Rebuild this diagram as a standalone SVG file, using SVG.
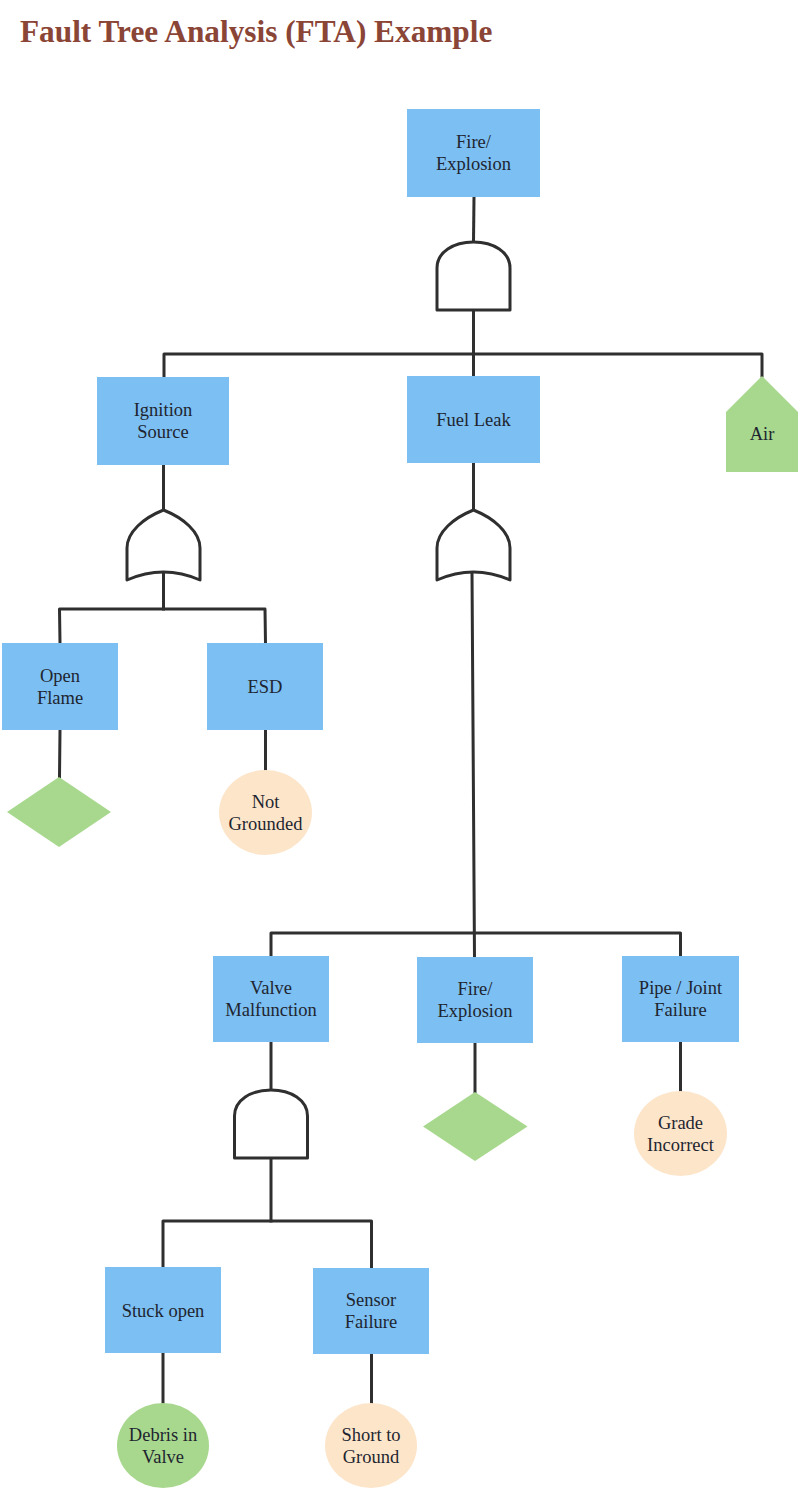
<svg xmlns="http://www.w3.org/2000/svg" xmlns:xlink="http://www.w3.org/1999/xlink" width="800" height="1491" viewBox="0 0 800 1491">
<style>
.box{fill:#7CBFF2;}
.green{fill:#A8D88E;}
.peach{fill:#FDE5CA;}
.lbl{font-family:"Liberation Serif","Times New Roman",serif;font-size:18.5px;fill:#1E2530;text-anchor:middle;}
.wire{stroke:#2F2F2F;stroke-width:3;fill:none;stroke-linecap:square;stroke-linejoin:round;}
.gate{stroke:#2F2F2F;stroke-width:3;fill:#FFFFFF;stroke-linejoin:round;}
.title{font-family:"Liberation Serif","Times New Roman",serif;font-size:31.3px;font-weight:bold;fill:#8B4536;}
</style>
<defs>
<path id="andg" class="gate" d="M-36.5,68 V26 C-36.5,10 -20,0 0,0 C20,0 36.5,10 36.5,26 V68 Z"/>
<path id="org" class="gate" d="M-36.5,70 V38 C-36.5,22 -20,8 0,0 C20,8 36.5,22 36.5,38 V70 Q0,54 -36.5,70 Z"/>
</defs>
<rect width="800" height="1491" fill="#FFFFFF"/>
<text class="title" x="20" y="42">Fault Tree Analysis (FTA) Example</text>

<g id="connectors">
<path class="wire" d="M474,197 L473.5,242"/>
<path class="wire" d="M473.5,310 V376"/>
<path class="wire" d="M164,377 V354 H762 V376"/>
<path class="wire" d="M163.5,465 V510"/>
<path class="wire" d="M163.5,572 V609"/>
<path class="wire" d="M60,643 L59.5,609 H265 L265.5,643"/>
<path class="wire" d="M60,730 L59.5,777"/>
<path class="wire" d="M265.5,730 V770"/>
<path class="wire" d="M473.5,463 V510"/>
<path class="wire" d="M472,572 L474.5,957"/>
<path class="wire" d="M271,956 V933 H680.5 V956"/>
<path class="wire" d="M271,1042 V1090"/>
<path class="wire" d="M475,1043 V1092"/>
<path class="wire" d="M680.5,1042 V1091"/>
<path class="wire" d="M271,1158 V1221"/>
<path class="wire" d="M163,1267 V1221 H371.5 V1268"/>
<path class="wire" d="M163,1353 V1403"/>
<path class="wire" d="M371.5,1354 V1403"/>
</g>

<g id="gate-top-and"><use xlink:href="#andg" href="#andg" x="473.5" y="242"/></g>
<g id="gate-ignition-or"><use xlink:href="#org" href="#org" x="163.5" y="510"/></g>
<g id="gate-fuel-or"><use xlink:href="#org" href="#org" x="473.5" y="510"/></g>
<g id="gate-valve-and"><use xlink:href="#andg" href="#andg" x="271" y="1090"/></g>

<g id="node-fire-top">
<rect class="box" x="407" y="109" width="133" height="88"/>
<text class="lbl" x="473.5" y="148">Fire/</text>
<text class="lbl" x="473.5" y="170">Explosion</text>
</g>
<g id="node-ignition">
<rect class="box" x="97" y="377" width="132" height="88"/>
<text class="lbl" x="163" y="416">Ignition</text>
<text class="lbl" x="163" y="438">Source</text>
</g>
<g id="node-fuel-leak">
<rect class="box" x="407" y="376" width="133" height="87"/>
<text class="lbl" x="473.5" y="426">Fuel Leak</text>
</g>
<g id="node-air">
<polygon class="green" points="762,376 798,412 798,472 726,472 726,412"/>
<text class="lbl" x="762" y="440">Air</text>
</g>
<g id="node-open-flame">
<rect class="box" x="2" y="643" width="116" height="87"/>
<text class="lbl" x="60" y="681.5">Open</text>
<text class="lbl" x="60" y="703.5">Flame</text>
</g>
<g id="node-esd">
<rect class="box" x="207" y="643" width="116" height="87"/>
<text class="lbl" x="265" y="693">ESD</text>
</g>
<g id="node-diamond-left">
<polygon class="green" points="59,777 111,812 59,847 7,812"/>
</g>
<g id="node-not-grounded">
<ellipse class="peach" cx="265.5" cy="812.5" rx="46.5" ry="42.5"/>
<text class="lbl" x="265.5" y="807.5">Not</text>
<text class="lbl" x="265.5" y="829.5">Grounded</text>
</g>
<g id="node-valve">
<rect class="box" x="213" y="956" width="116" height="86"/>
<text class="lbl" x="271" y="994">Valve</text>
<text class="lbl" x="271" y="1016">Malfunction</text>
</g>
<g id="node-fire-mid">
<rect class="box" x="417" y="957" width="116" height="86"/>
<text class="lbl" x="475" y="995">Fire/</text>
<text class="lbl" x="475" y="1017">Explosion</text>
</g>
<g id="node-pipe">
<rect class="box" x="622" y="956" width="117" height="86"/>
<text class="lbl" x="680.5" y="994">Pipe / Joint</text>
<text class="lbl" x="680.5" y="1016">Failure</text>
</g>
<g id="node-diamond-mid">
<polygon class="green" points="475,1092 527.5,1126.5 475,1161 423,1126.5"/>
</g>
<g id="node-grade">
<ellipse class="peach" cx="680.5" cy="1133.5" rx="46.5" ry="42.5"/>
<text class="lbl" x="680.5" y="1128.5">Grade</text>
<text class="lbl" x="680.5" y="1150.5">Incorrect</text>
</g>
<g id="node-stuck">
<rect class="box" x="105" y="1267" width="116" height="86"/>
<text class="lbl" x="163" y="1316.5">Stuck open</text>
</g>
<g id="node-sensor">
<rect class="box" x="313" y="1268" width="116" height="86"/>
<text class="lbl" x="371" y="1306">Sensor</text>
<text class="lbl" x="371" y="1328">Failure</text>
</g>
<g id="node-debris">
<ellipse class="green" cx="163" cy="1445.5" rx="46" ry="42.5"/>
<text class="lbl" x="163" y="1440.5">Debris in</text>
<text class="lbl" x="163" y="1462.5">Valve</text>
</g>
<g id="node-short">
<ellipse class="peach" cx="371" cy="1445.5" rx="46" ry="42.5"/>
<text class="lbl" x="371" y="1440.5">Short to</text>
<text class="lbl" x="371" y="1462.5">Ground</text>
</g>
</svg>
